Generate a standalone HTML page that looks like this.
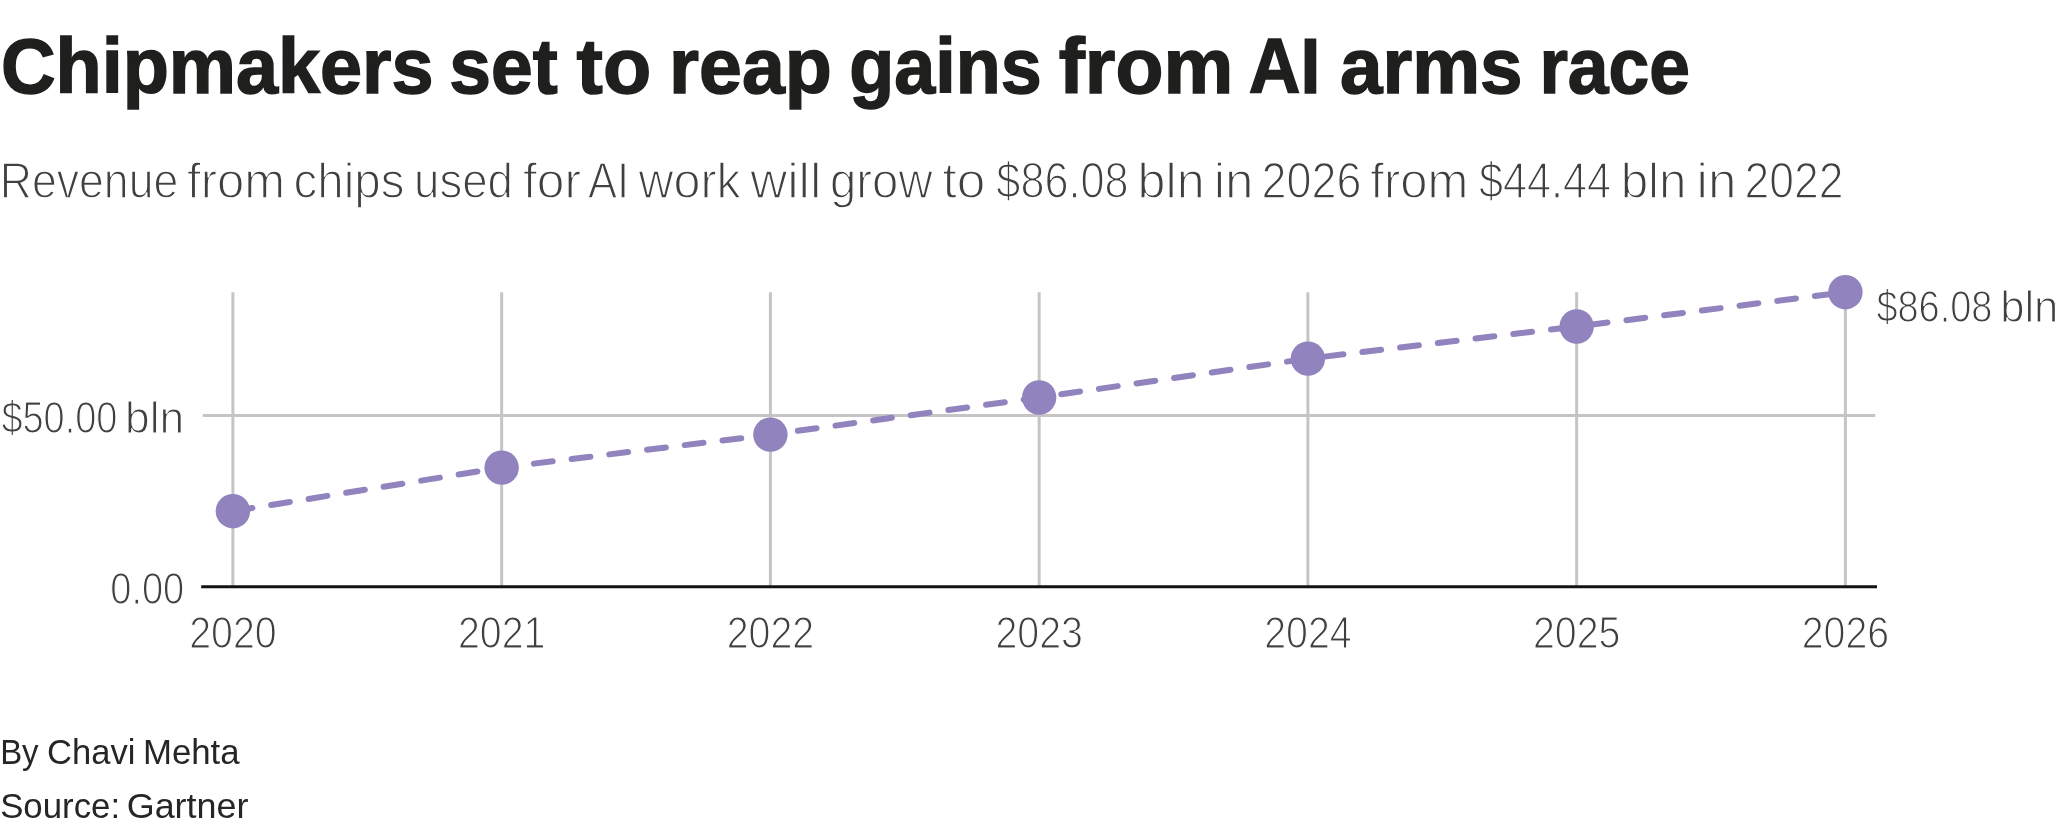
<!DOCTYPE html>
<html>
<head>
<meta charset="utf-8">
<style>
html,body{margin:0;padding:0;background:#fff;}
body{width:2066px;height:834px;overflow:hidden;}
svg{display:block;will-change:transform;}
text{font-family:"Liberation Sans",sans-serif;}
.t{font-weight:bold;fill:#1f1f1d;stroke:#1f1f1d;stroke-width:1.5px;}
.lt{fill:#404040;stroke:#fff;stroke-width:1.2px;}
.ft{fill:#262626;}
</style>
</head>
<body>
<svg width="2066" height="834" viewBox="0 0 2066 834">
<rect width="2066" height="834" fill="#fff"/>

<g stroke="#c5c5c5" stroke-width="3" fill="none">
<line x1="202.8" y1="415.6" x2="1875.3" y2="415.6"/>
<line x1="232.9" y1="292.2" x2="232.9" y2="586"/>
<line x1="501.65" y1="292.2" x2="501.65" y2="586"/>
<line x1="770.4" y1="292.2" x2="770.4" y2="586"/>
<line x1="1039.15" y1="292.2" x2="1039.15" y2="586"/>
<line x1="1307.9" y1="292.2" x2="1307.9" y2="586"/>
<line x1="1576.65" y1="292.2" x2="1576.65" y2="586"/>
<line x1="1845.4" y1="292.2" x2="1845.4" y2="586"/>
</g>
<line x1="201.2" y1="586.7" x2="1877" y2="586.7" stroke="#121210" stroke-width="3"/>
<polyline points="232.9,511.2 501.65,467.6 770.4,434.6 1039.15,397.5 1307.9,358.6 1576.65,326.5 1845.4,292.2" fill="none" stroke="#9183bd" stroke-width="6" stroke-linecap="round" stroke-dasharray="19 19" stroke-dashoffset="-0.7"/>
<g fill="#9183bd">
<circle cx="232.9" cy="511.2" r="17.2"/>
<circle cx="501.65" cy="467.6" r="17.2"/>
<circle cx="770.4" cy="434.6" r="17.2"/>
<circle cx="1039.15" cy="397.5" r="17.2"/>
<circle cx="1307.9" cy="358.6" r="17.2"/>
<circle cx="1576.65" cy="326.5" r="17.2"/>
<circle cx="1845.4" cy="292.2" r="17.2"/>
</g>
<g class="lt" font-size="45" text-anchor="middle">
<text x="232.9" y="648.3" textLength="87.5" lengthAdjust="spacingAndGlyphs">2020</text>
<text x="501.65" y="648.3" textLength="87.5" lengthAdjust="spacingAndGlyphs">2021</text>
<text x="770.4" y="648.3" textLength="87.5" lengthAdjust="spacingAndGlyphs">2022</text>
<text x="1039.15" y="648.3" textLength="87.5" lengthAdjust="spacingAndGlyphs">2023</text>
<text x="1307.9" y="648.3" textLength="87.5" lengthAdjust="spacingAndGlyphs">2024</text>
<text x="1576.65" y="648.3" textLength="87.5" lengthAdjust="spacingAndGlyphs">2025</text>
<text x="1845.4" y="648.3" textLength="87.5" lengthAdjust="spacingAndGlyphs">2026</text>
</g>
<text class="t" x="0.91" y="93" font-size="77.8" textLength="432.62" lengthAdjust="spacingAndGlyphs">Chipmakers</text>
<text class="t" x="449.25" y="93" font-size="77.8" textLength="108.44" lengthAdjust="spacingAndGlyphs">set</text>
<text class="t" x="576.61" y="93" font-size="77.8" textLength="74.62" lengthAdjust="spacingAndGlyphs">to</text>
<text class="t" x="669.07" y="93" font-size="77.8" textLength="162.76" lengthAdjust="spacingAndGlyphs">reap</text>
<text class="t" x="849.36" y="93" font-size="77.8" textLength="192.37" lengthAdjust="spacingAndGlyphs">gains</text>
<text class="t" x="1058.67" y="93" font-size="77.8" textLength="174.64" lengthAdjust="spacingAndGlyphs">from</text>
<text class="t" x="1248.73" y="93" font-size="77.8" textLength="71.61" lengthAdjust="spacingAndGlyphs">AI</text>
<text class="t" x="1340.04" y="93" font-size="77.8" textLength="182.52" lengthAdjust="spacingAndGlyphs">arms</text>
<text class="t" x="1539.41" y="93" font-size="77.8" textLength="150.49" lengthAdjust="spacingAndGlyphs">race</text>
<text class="lt" x="-0.28" y="197.5" font-size="50" textLength="178.57" lengthAdjust="spacingAndGlyphs" style="stroke-width:1.4px">Revenue</text>
<text class="lt" x="187.09" y="197.5" font-size="50" textLength="97.91" lengthAdjust="spacingAndGlyphs" style="stroke-width:1.4px">from</text>
<text class="lt" x="293.59" y="197.5" font-size="50" textLength="110.93" lengthAdjust="spacingAndGlyphs" style="stroke-width:1.4px">chips</text>
<text class="lt" x="413.98" y="197.5" font-size="50" textLength="99.07" lengthAdjust="spacingAndGlyphs" style="stroke-width:1.4px">used</text>
<text class="lt" x="522.97" y="197.5" font-size="50" textLength="58.07" lengthAdjust="spacingAndGlyphs" style="stroke-width:1.4px">for</text>
<text class="lt" x="588.06" y="197.5" font-size="50" textLength="41.15" lengthAdjust="spacingAndGlyphs" style="stroke-width:1.4px">AI</text>
<text class="lt" x="638.56" y="197.5" font-size="50" textLength="102.29" lengthAdjust="spacingAndGlyphs" style="stroke-width:1.4px">work</text>
<text class="lt" x="750.21" y="197.5" font-size="50" textLength="71.08" lengthAdjust="spacingAndGlyphs" style="stroke-width:1.4px">will</text>
<text class="lt" x="830.09" y="197.5" font-size="50" textLength="102.44" lengthAdjust="spacingAndGlyphs" style="stroke-width:1.4px">grow</text>
<text class="lt" x="942.50" y="197.5" font-size="50" textLength="42.89" lengthAdjust="spacingAndGlyphs" style="stroke-width:1.4px">to</text>
<text class="lt" x="996.37" y="197.5" font-size="50" textLength="132.16" lengthAdjust="spacingAndGlyphs" style="stroke-width:1.4px">$86.08</text>
<text class="lt" x="1137.54" y="197.5" font-size="50" textLength="67.04" lengthAdjust="spacingAndGlyphs" style="stroke-width:1.4px">bln</text>
<text class="lt" x="1213.77" y="197.5" font-size="50" textLength="39.80" lengthAdjust="spacingAndGlyphs" style="stroke-width:1.4px">in</text>
<text class="lt" x="1261.47" y="197.5" font-size="50" textLength="99.94" lengthAdjust="spacingAndGlyphs" style="stroke-width:1.4px">2026</text>
<text class="lt" x="1370.37" y="197.5" font-size="50" textLength="97.93" lengthAdjust="spacingAndGlyphs" style="stroke-width:1.4px">from</text>
<text class="lt" x="1478.95" y="197.5" font-size="50" textLength="132.21" lengthAdjust="spacingAndGlyphs" style="stroke-width:1.4px">$44.44</text>
<text class="lt" x="1620.65" y="197.5" font-size="50" textLength="65.92" lengthAdjust="spacingAndGlyphs" style="stroke-width:1.4px">bln</text>
<text class="lt" x="1696.55" y="197.5" font-size="50" textLength="39.80" lengthAdjust="spacingAndGlyphs" style="stroke-width:1.4px">in</text>
<text class="lt" x="1744.52" y="197.5" font-size="50" textLength="99.00" lengthAdjust="spacingAndGlyphs" style="stroke-width:1.4px">2022</text>
<text class="ft" x="0.17" y="764" font-size="35" textLength="38.38" lengthAdjust="spacingAndGlyphs">By</text>
<text class="ft" x="47.06" y="764" font-size="35" textLength="88.29" lengthAdjust="spacingAndGlyphs">Chavi</text>
<text class="ft" x="142.93" y="764" font-size="35" textLength="96.67" lengthAdjust="spacingAndGlyphs">Mehta</text>
<text class="ft" x="0.17" y="817.7" font-size="35" textLength="119.96" lengthAdjust="spacingAndGlyphs">Source:</text>
<text class="ft" x="126.69" y="817.7" font-size="35" textLength="121.81" lengthAdjust="spacingAndGlyphs">Gartner</text>
<text class="lt" x="1.40" y="432.6" font-size="44.6" textLength="116.01" lengthAdjust="spacingAndGlyphs">$50.00</text>
<text class="lt" x="125.06" y="432.6" font-size="44.6" textLength="59.17" lengthAdjust="spacingAndGlyphs">bln</text>
<text class="lt" x="1876.40" y="321.8" font-size="44.6" textLength="116.00" lengthAdjust="spacingAndGlyphs">$86.08</text>
<text class="lt" x="2000.15" y="321.8" font-size="44.6" textLength="58.27" lengthAdjust="spacingAndGlyphs">bln</text>
<text class="lt" x="110.24" y="604.1" font-size="44.6" textLength="74.02" lengthAdjust="spacingAndGlyphs">0.00</text>
</svg>
</body>
</html>
